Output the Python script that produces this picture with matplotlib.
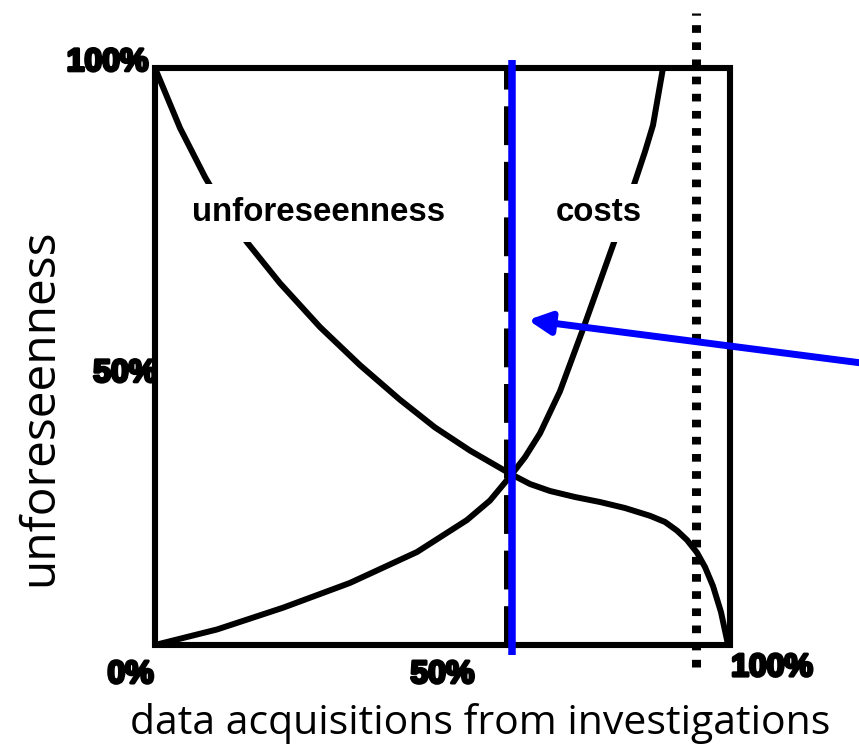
import matplotlib.pyplot as plt
import matplotlib.patheffects as pe
from matplotlib.patches import Rectangle

# unforeseenness falls as more data is acquired (fractions of full scale)
unforeseen_x = [0.0, 0.0435, 0.087, 0.1235, 0.160, 0.2174, 0.287, 0.3565,
                0.4261, 0.487, 0.5478, 0.6174, 0.6522, 0.687, 0.7304, 0.7739,
                0.8174, 0.8609, 0.8870, 0.9078, 0.9252, 0.9426, 0.9565,
                0.9704, 0.9843, 0.9965]
unforeseen_y = [1.0, 0.896, 0.811, 0.749, 0.698, 0.627, 0.551, 0.485,
                0.425, 0.377, 0.337, 0.297, 0.279, 0.2669, 0.2565, 0.2478,
                0.2374, 0.2239, 0.2132, 0.1983, 0.1820, 0.1601, 0.1352,
                0.1023, 0.0572, 0.0009]

# costs rise with the amount of investigation
cost_x = [0.0, 0.1078, 0.2226, 0.3391, 0.4557, 0.5426, 0.5826, 0.6191,
          0.6435, 0.6696, 0.7043, 0.7443, 0.7826, 0.8174, 0.8522, 0.8661,
          0.8835]
cost_y = [0.0, 0.0269, 0.0646, 0.1076, 0.1612, 0.2166, 0.2504, 0.2941,
          0.3256, 0.3669, 0.4397, 0.5473, 0.6541, 0.7511, 0.8551, 0.9009,
          1.0]

optimum_x = 0.621     # chosen amount of investigation (blue)
crossing_x = 0.612    # where the two curves meet (dashed)
limit_x = 0.941       # practical upper limit (dotted)

x_tick_labels = ['0%', '50%', '100%']
y_tick_labels = ['50%', '100%']

fig = plt.figure(figsize=(8.59, 7.49), dpi=100)
ax = fig.add_axes([155 / 859, 104 / 749, 575 / 859, 577 / 749])
ax.set_xlim(0, 1)
ax.set_ylim(0, 1)
ax.set_xticks([])
ax.set_yticks([])
for s in ax.spines.values():
    s.set_visible(False)

# heavy frame
ax.add_patch(Rectangle((0, 0), 1, 1, transform=ax.transAxes, fill=False,
                       lw=4.4, ec='black', joinstyle='miter', clip_on=False,
                       zorder=3))

ax.plot(unforeseen_x, unforeseen_y, color='black', lw=4.3, zorder=3,
        solid_joinstyle='round')
ax.plot(cost_x, cost_y, color='black', lw=4.3, zorder=3,
        solid_joinstyle='round')

ax.plot([crossing_x, crossing_x], [0, 1], color='black', lw=4.3,
        dashes=(6.5, 2.8), dash_capstyle='butt', zorder=2)
ax.plot([optimum_x, optimum_x], [-0.017, 1.014], color='#0000ff', lw=5.4,
        solid_capstyle='butt', clip_on=False, zorder=4)
ax.plot([limit_x, limit_x], [-0.038, 1.095], color='black', lw=6.5,
        dashes=(0.85, 1.05), dash_capstyle='butt', clip_on=False, zorder=3)

# curve names on white patches that break the lines
box = dict(boxstyle='square,pad=0.4', fc='white', ec='none')
ax.text(0.285, 0.749, 'unforeseenness', fontsize=23.8, fontweight='bold',
        family='Liberation Sans', ha='center', va='center', bbox=box, zorder=5)
ax.text(0.772, 0.749, 'costs', fontsize=23.8, fontweight='bold',
        family='Liberation Sans', ha='center', va='center', bbox=box, zorder=5)

ax.annotate('', xy=(0.6487, 0.5633), xytext=(1.261, 0.4846),
            xycoords='data', textcoords='data', annotation_clip=False,
            arrowprops=dict(arrowstyle='-|>,head_length=1.1,head_width=0.55',
                            mutation_scale=12, color='#0000ff', lw=5,
                            shrinkA=0, shrinkB=0), zorder=6)

# percentage labels at the corners and midpoints
tick_font = dict(fontsize=23, fontweight='heavy', family='Liberation Sans',
                 color='black',
                 path_effects=[pe.withStroke(linewidth=2.2, foreground='black')])
ax.text(-0.002, -0.052, x_tick_labels[0], ha='right', va='center', **tick_font)
ax.text(0.5, -0.052, x_tick_labels[1], ha='center', va='center', **tick_font)
ax.text(1.002, -0.040, x_tick_labels[2], ha='left', va='center', **tick_font)
ax.text(0.004, 0.470, y_tick_labels[0], ha='right', va='center', **tick_font)
ax.text(-0.011, 1.009, y_tick_labels[1], ha='right', va='center', **tick_font)

fig.text(480 / 859, 1 - 724 / 749, 'data acquisitions from investigations',
         fontsize=29.5, family='Open Sans', ha='center', va='center')
fig.text(40 / 859, 1 - 407 / 749, 'unforeseenness', fontsize=34.5,
         family='Open Sans', rotation=90, ha='center', va='center')

fig.savefig('out.png', dpi=100)
